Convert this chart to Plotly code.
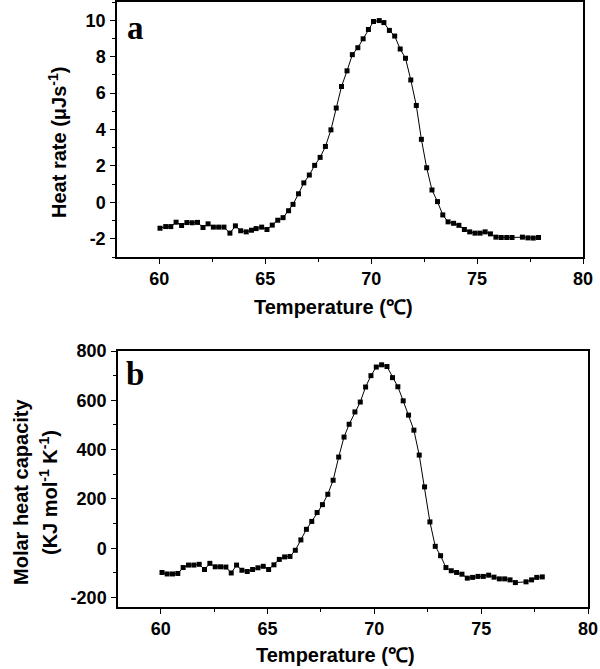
import plotly.graph_objects as go

# panel a: heat rate vs temperature
temp_a = [60.03, 60.3, 60.54, 60.79, 61.05, 61.3, 61.55, 61.8, 62.06, 62.3, 62.55, 62.8,
          63.05, 63.33, 63.59, 63.84, 64.1, 64.35, 64.57, 64.83, 65.08, 65.33, 65.59, 65.84,
          66.1, 66.31, 66.57, 66.82, 67.08, 67.33, 67.59, 67.84, 68.1, 68.35, 68.6, 68.86,
          69.11, 69.37, 69.62, 69.87, 70.11, 70.38, 70.6, 70.86, 71.11, 71.37, 71.62, 71.87,
          72.13, 72.37, 72.62, 72.87, 73.13, 73.38, 73.63, 73.89, 74.14, 74.4, 74.65, 74.9,
          75.14, 75.38, 75.63, 75.89, 76.14, 76.4, 76.65, 77.14, 77.4, 77.65, 77.9]
heat_rate = [-1.42, -1.33, -1.33, -1.09, -1.27, -1.11, -1.12, -1.10, -1.38, -1.18, -1.36, -1.36,
             -1.36, -1.69, -1.29, -1.56, -1.62, -1.53, -1.44, -1.36, -1.49, -1.25, -0.98, -0.84,
             -0.46, -0.11, 0.47, 1.07, 1.50, 2.03, 2.47, 3.07, 3.98, 5.18, 6.36, 7.22,
             8.11, 8.49, 8.98, 9.49, 9.93, 9.98, 9.87, 9.44, 9.13, 8.42, 7.91, 6.72,
             5.32, 3.46, 1.90, 0.68, 0.04, -0.69, -1.07, -1.15, -1.26, -1.49, -1.62, -1.69,
             -1.69, -1.62, -1.73, -1.91, -1.93, -1.93, -1.93, -1.91, -1.95, -1.96, -1.93]

# panel b: molar heat capacity vs temperature
temp_b = [60.06, 60.3, 60.55, 60.8, 61.05, 61.3, 61.55, 61.8, 62.05, 62.3, 62.55, 62.8,
          63.05, 63.3, 63.55, 63.8, 64.05, 64.3, 64.55, 64.8, 65.05, 65.3, 65.55, 65.8,
          66.05, 66.3, 66.56, 66.82, 67.07, 67.32, 67.57, 67.82, 68.07, 68.33, 68.58, 68.82,
          69.09, 69.34, 69.59, 69.84, 70.09, 70.34, 70.59, 70.85, 71.1, 71.35, 71.6, 71.85,
          72.1, 72.35, 72.6, 72.85, 73.1, 73.35, 73.6, 73.85, 74.1, 74.35, 74.6, 74.85,
          75.1, 75.35, 75.6, 75.85, 76.1, 76.35, 76.6, 77.1, 77.36, 77.6, 77.86]
heat_cap = [-98, -104, -104, -102, -78, -68, -68, -65, -86, -61, -75, -75,
            -76, -100, -68, -89, -94, -86, -79, -73, -86, -67, -45, -35,
            -33, -8, 34, 77, 109, 145, 177, 219, 276, 370, 451, 503,
            553, 593, 654, 700, 735, 744, 737, 692, 655, 598, 540, 479,
            378, 249, 107, 8, -30, -78, -91, -98, -105, -121, -118, -114,
            -114, -109, -117, -124, -124, -128, -139, -136, -128, -118, -116]

# tick labels
x_ticks = [60, 65, 70, 75, 80]
ya_ticks = [-2, 0, 2, 4, 6, 8, 10]
yb_ticks = [-200, 0, 200, 400, 600, 800]

W, H = 600, 669
SANS = "Liberation Sans"
tick_font = dict(family=SANS, size=18, color="black")


def px_x(p):
    return p / W


def px_y(p):
    return 1 - p / H


def bold(vals):
    return ["<b>%g</b>" % v for v in vals]


def series(x, y, xa, ya):
    return go.Scatter(
        x=x, y=y, xaxis=xa, yaxis=ya, mode="lines+markers",
        line=dict(color="black", width=1),
        marker=dict(symbol="square", size=5, color="black"),
        showlegend=False,
    )


def x_axis(domain, anchor):
    return dict(
        domain=domain, anchor=anchor, range=[58, 80], automargin=False,
        tickvals=x_ticks, ticktext=bold(x_ticks),
        ticks="outside", ticklen=5, tickwidth=1.2, tickcolor="black",
        minor=dict(ticks="outside", ticklen=3, dtick=2.5, tick0=60, tickcolor="black"),
        showline=True, mirror=True, linecolor="black", linewidth=1.5,
        showgrid=False, zeroline=False, tickfont=tick_font,
    )


def y_axis(domain, anchor, rng, vals, minor):
    return dict(
        domain=domain, anchor=anchor, range=rng, automargin=False,
        tickvals=vals, ticktext=bold(vals),
        ticks="outside", ticklen=5, tickwidth=1.2, tickcolor="black",
        minor=dict(ticks="outside", ticklen=3, dtick=minor, tick0=0, tickcolor="black"),
        showline=True, mirror=True, linecolor="black", linewidth=1.5,
        showgrid=False, zeroline=False, tickfont=tick_font, ticklabelstandoff=1,
    )


fig = go.Figure([
    series(temp_a, heat_rate, "x", "y"),
    series(temp_b, heat_cap, "x2", "y2"),
])

title_font = dict(family=SANS, size=20, color="black")
letter_font = dict(family="Liberation Serif", size=33, color="black")


def label(text, x, y, font, angle=0):
    return dict(text=text, xref="paper", yref="paper", x=px_x(x), y=px_y(y),
                xanchor="center", yanchor="middle", textangle=angle,
                showarrow=False, font=font)


fig.update_layout(
    width=W, height=H,
    margin=dict(l=0, r=0, t=0, b=0, pad=0),
    paper_bgcolor="white", plot_bgcolor="white",
    xaxis=x_axis([px_x(117), px_x(583)], "y"),
    yaxis=y_axis([px_y(257), px_y(2)], "x", [-3, 11], ya_ticks, 1),
    xaxis2=x_axis([px_x(118), px_x(588)], "y2"),
    yaxis2=y_axis([px_y(607), px_y(351)], "x2", [-238, 800], yb_ticks, 100),
    annotations=[
        label("<b>Temperature (℃)</b>", 333, 307, title_font),
        label("<b>Temperature (℃)</b>", 335, 655, title_font),
        label("<b>Heat rate (μJs<sup>-1</sup>)</b>", 57, 143, title_font, -90),
        label("<b>Molar heat capacity</b>", 21, 492, title_font, -90),
        label("<b>(KJ mol<sup>-1</sup> K<sup>-1</sup>)</b>", 48, 493, title_font, -90),
        label("<b>a</b>", 135, 28, letter_font),
        label("<b>b</b>", 135, 374, letter_font),
    ],
)

# page body has a default 8px margin; drop it so the figure sits at the window corner
fig.write_html("out.html", config={"displayModeBar": False},
               post_script="document.body.style.margin='0';"
                           "document.body.style.overflow='hidden';")
